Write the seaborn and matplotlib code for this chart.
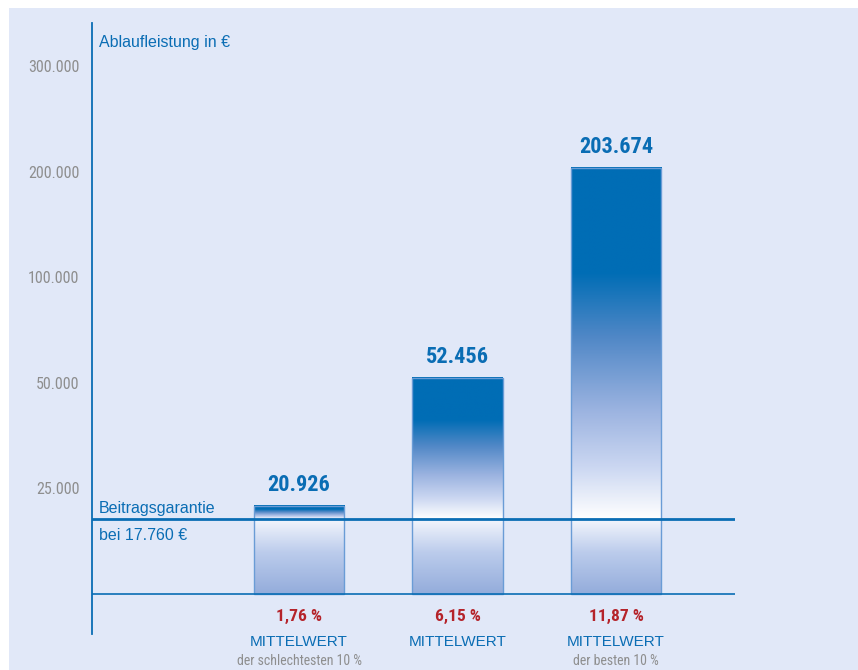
import numpy as np
import matplotlib
matplotlib.use('Agg')
import matplotlib.pyplot as plt
import matplotlib.transforms as mtransforms
from matplotlib.colors import LinearSegmentedColormap
from matplotlib.patches import Rectangle
from matplotlib import font_manager
import seaborn as sns

# data
groups = ['schlechteste 10 %', 'Mittelwert', 'beste 10 %']
payouts = [20926, 52456, 203674]
returns = ['1,76 %', '6,15 %', '11,87 %']
subtitles = ['der schlechtesten 10 %', '', 'der besten 10 %']
guarantee = 17760
tick_values = [25000, 50000, 100000, 200000, 300000]

BLUE = '#0A6DB4'
DARK = '#006DB5'
GREY = '#8E8E8E'
RED = '#B5232A'
BG = '#E1E8F8'

# pick a condensed face if there is one
fonts = font_manager.fontManager.ttflist
names = {f.name for f in fonts}
NARROW, STRETCH = 'Liberation Sans', 'normal'
if 'Liberation Sans Narrow' in names:
    NARROW = 'Liberation Sans Narrow'
elif 'Roboto Condensed' in names:
    NARROW = 'Roboto Condensed'
elif any(f.name == 'DejaVu Sans' and f.stretch in ('condensed', 'semi-condensed', 500) for f in fonts):
    NARROW, STRETCH = 'DejaVu Sans', 'condensed'
PLAIN = 'Liberation Sans'


def fmt(v):
    return f"{v:,}".replace(',', '.')


# stretched value axis: 0, 25k, 50k, 100k, 200k, 300k are equally spaced
knots = np.array([0, 25000, 50000, 100000, 200000, 300000], float)
steps = np.arange(len(knots), dtype=float)


def forward(v):
    v = np.asarray(v, float)
    out = np.interp(v, knots, steps)
    out = np.where(v < 0, v / 25000, out)
    out = np.where(v > 300000, 5 + (v - 300000) / 100000, out)
    return out


def inverse(u):
    u = np.asarray(u, float)
    out = np.interp(u, steps, knots)
    out = np.where(u < 0, u * 25000, out)
    out = np.where(u > 5, 300000 + (u - 5) * 100000, out)
    return out


sns.set_theme(style='white')
plt.rcParams['font.family'] = [PLAIN, 'DejaVu Sans']

fig = plt.figure(figsize=(8.58, 6.70), dpi=100, facecolor='white')
fig.patches.append(Rectangle((9 / 858, 0), 1, 1 - 8 / 670, transform=fig.transFigure,
                             facecolor=BG, edgecolor='none', zorder=-5))
ax = fig.add_axes([92 / 858, 36 / 670, 643 / 858, 611 / 670])
ax.set_facecolor('none')
ax.set_zorder(1)

sns.barplot(x=groups, y=payouts, width=0.57, color='white', ax=ax)
ax.set_yscale('function', functions=(forward, inverse))
ax.set_xlim(-1.306, 2.75)
ax.set_ylim(-9470, 340700)
ax.autoscale(False)

# upper part fades from dark blue to white at the guarantee line,
# lower part from nearly white down to a light blue
upper_cmap = LinearSegmentedColormap.from_list(
    'upper', [(0, DARK), (0.3, DARK), (0.48, '#4F87C6'), (0.69, '#9BB3E0'),
              (0.85, '#CAD6F1'), (1, '#FFFFFF')])
lower_cmap = LinearSegmentedColormap.from_list(
    'lower', [(0, '#F5F7FD'), (0.45, '#BCCCEC'), (1, '#93ACDB')])
grad = np.linspace(0, 1, 256).reshape(-1, 1)
to_axes = ax.transData + ax.transAxes.inverted()

for p in ax.patches:
    x0, w, top = p.get_x(), p.get_width(), p.get_height()
    (ax0, ay_top), (ax1, ay_g) = to_axes.transform([(x0, top), (x0 + w, guarantee)])
    _, ay_0 = to_axes.transform((x0, 0))
    ax.imshow(grad, cmap=upper_cmap, aspect='auto', origin='upper', transform=ax.transAxes,
              extent=[ax0, ax1, ay_g, ay_top], zorder=2)
    ax.imshow(grad, cmap=lower_cmap, aspect='auto', origin='upper', transform=ax.transAxes,
              extent=[ax0, ax1, ay_0, ay_g], zorder=2)
    p.set_facecolor('none')
    p.set_edgecolor('#6A9CD6')
    p.set_linewidth(1)
    p.set_zorder(3)

ax.axhline(guarantee, color=BLUE, lw=2, zorder=5)
ax.axhline(0, color=BLUE, lw=1.2, zorder=5)

for s in ['top', 'right', 'bottom']:
    ax.spines[s].set_visible(False)
ax.spines['left'].set_color(BLUE)
ax.spines['left'].set_linewidth(1.3)
ax.set_xticks([])
ax.set_yticks(tick_values, [fmt(v) for v in tick_values])
ax.tick_params(axis='y', length=0, pad=9, labelcolor=GREY, labelsize=11.5)
for lab in ax.get_yticklabels():
    lab.set_family(NARROW)
    lab.set_stretch(STRETCH)
ax.set_xlabel('')
ax.set_ylabel('')

# value labels above the bars
for i, v in enumerate(payouts):
    ax.annotate(fmt(v), (i, v), xytext=(0, 7), textcoords='offset points',
                ha='center', va='bottom', color=BLUE, fontsize=16,
                fontweight='bold', family=NARROW, stretch=STRETCH)

# labels under the bars
below = mtransforms.blended_transform_factory(ax.transData, fig.transFigure)
for i, (r, sub) in enumerate(zip(returns, subtitles)):
    ax.text(i, 1 - 616 / 670, r, transform=below, ha='center', va='center',
            color=RED, fontsize=12.5, fontweight='bold', family=NARROW, stretch=STRETCH)
    ax.text(i, 1 - 642 / 670, 'MITTELWERT', transform=below, ha='center', va='center',
            color=BLUE, fontsize=11)
    if sub:
        ax.text(i, 1 - 661 / 670, sub, transform=below, ha='center', va='center',
                color=GREY, fontsize=10, family=NARROW, stretch=STRETCH)

fig.text(99 / 858, 1 - 43 / 670, 'Ablaufleistung in €', color=BLUE, fontsize=11.5, va='center')
fig.text(99 / 858, 1 - 509 / 670, 'Beitragsgarantie', color=BLUE, fontsize=11.5, va='center')
fig.text(99 / 858, 1 - 536 / 670, f'bei {fmt(guarantee)} €', color=BLUE, fontsize=11.5, va='center')

fig.savefig('out.png', dpi=100, facecolor='white')
